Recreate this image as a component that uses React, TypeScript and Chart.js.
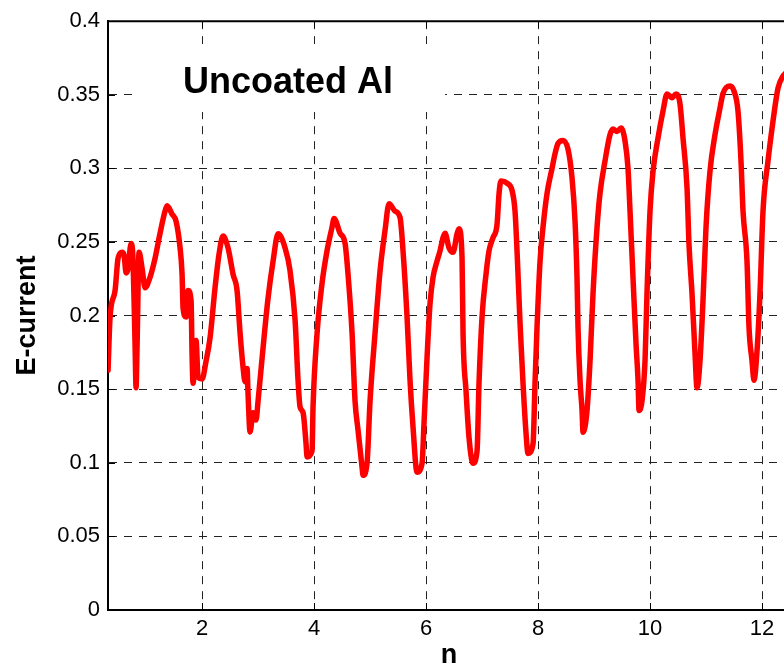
import React, { useEffect, useRef } from "react";
import { Chart, registerables } from "chart.js";

Chart.register(...registerables);

// ---- data ----
const nValues = [
  0.321, 0.357, 0.446, 0.5, 0.571, 0.607, 0.643, 0.679, 0.732, 0.768, 0.804, 0.821, 0.839, 0.875, 0.929, 0.982,
  1.071, 1.161, 1.25, 1.339, 1.375, 1.464, 1.536, 1.607, 1.643, 1.661, 1.714, 1.75, 1.804, 1.821, 1.839, 1.893, 1.929,
  2.0, 2.071, 2.143, 2.232, 2.304, 2.375, 2.464, 2.554, 2.625, 2.679, 2.732, 2.768, 2.804, 2.821, 2.857, 2.911, 2.964,
  3.0, 3.089, 3.179, 3.268, 3.357, 3.482, 3.571, 3.661, 3.714, 3.75, 3.804, 3.857, 3.875, 3.964, 3.982,
  4.054, 4.143, 4.232, 4.321, 4.357, 4.464, 4.554, 4.607, 4.679, 4.732, 4.786, 4.857, 4.875, 4.946,
  5.0, 5.089, 5.179, 5.268, 5.339, 5.446, 5.536, 5.589, 5.661, 5.714, 5.768, 5.839, 5.929, 5.964,
  6.018, 6.071, 6.125, 6.196, 6.25, 6.304, 6.339, 6.411, 6.482, 6.554, 6.589, 6.643, 6.661, 6.714, 6.768, 6.839, 6.911, 6.946,
  7.0, 7.071, 7.125, 7.196, 7.268, 7.304, 7.339, 7.446, 7.536, 7.589, 7.625, 7.679, 7.732, 7.786, 7.821, 7.911, 7.946, 7.982,
  8.036, 8.089, 8.161, 8.25, 8.304, 8.357, 8.446, 8.536, 8.607, 8.661, 8.696, 8.714, 8.75, 8.786, 8.804, 8.875, 8.929, 8.982,
  9.054, 9.107, 9.196, 9.286, 9.339, 9.411, 9.482, 9.554, 9.607, 9.643, 9.696, 9.75, 9.786, 9.804, 9.857, 9.911, 9.946,
  10.0, 10.054, 10.143, 10.232, 10.304, 10.393, 10.464, 10.536, 10.589, 10.661, 10.696, 10.75, 10.804, 10.839, 10.893, 10.946,
  11.0, 11.071, 11.161, 11.25, 11.304, 11.429, 11.5, 11.571, 11.625, 11.661, 11.732, 11.768, 11.821, 11.857, 11.911, 11.964,
  12.018, 12.107, 12.196, 12.286, 12.375, 12.43,
];

const eCurrent = [
  0.163, 0.199, 0.217, 0.239, 0.243, 0.241, 0.229, 0.232, 0.249, 0.237, 0.179, 0.151, 0.179, 0.243, 0.232, 0.219,
  0.226, 0.239, 0.256, 0.271, 0.2746, 0.269, 0.264, 0.246, 0.228, 0.205, 0.199, 0.217, 0.21, 0.174, 0.154, 0.183, 0.158,
  0.157, 0.169, 0.185, 0.219, 0.242, 0.254, 0.246, 0.228, 0.217, 0.188, 0.165, 0.155, 0.164, 0.147, 0.121, 0.134, 0.129,
  0.142, 0.178, 0.212, 0.237, 0.2556, 0.246, 0.2305, 0.197, 0.156, 0.138, 0.134, 0.113, 0.104, 0.108, 0.138,
  0.188, 0.222, 0.244, 0.26, 0.266, 0.256, 0.249, 0.228, 0.188, 0.142, 0.122, 0.097, 0.0915, 0.0997,
  0.142, 0.188, 0.2305, 0.258, 0.276, 0.271, 0.2666, 0.244, 0.199, 0.156, 0.124, 0.0936, 0.0997, 0.127,
  0.1715, 0.208, 0.226, 0.237, 0.244, 0.253, 0.256, 0.246, 0.243, 0.2556, 0.259, 0.239, 0.188, 0.149, 0.117, 0.0997, 0.108, 0.154,
  0.199, 0.228, 0.244, 0.253, 0.262, 0.283, 0.2915, 0.29, 0.285, 0.271, 0.244, 0.1946, 0.154, 0.12, 0.1064, 0.113, 0.154, 0.192,
  0.237, 0.26, 0.283, 0.3, 0.31, 0.317, 0.319, 0.313, 0.2936, 0.264, 0.226, 0.192, 0.156, 0.1356, 0.1207, 0.1356, 0.1695, 0.215,
  0.26, 0.283, 0.305, 0.323, 0.3268, 0.325, 0.3275, 0.3186, 0.3, 0.271, 0.226, 0.181, 0.156, 0.1356, 0.142, 0.1695, 0.215,
  0.271, 0.298, 0.3207, 0.339, 0.3505, 0.348, 0.3505, 0.3437, 0.3207, 0.2868, 0.2488, 0.215, 0.174, 0.151, 0.1695, 0.21,
  0.26, 0.298, 0.323, 0.341, 0.351, 0.356, 0.3525, 0.339, 0.305, 0.271, 0.237, 0.192, 0.1695, 0.156, 0.176, 0.215,
  0.271, 0.305, 0.332, 0.3546, 0.3627, 0.365,
];

const xTickValues = [2, 4, 6, 8, 10, 12];
const yTickValues = [0, 0.05, 0.1, 0.15, 0.2, 0.25, 0.3, 0.35, 0.4];
const xRange = [0.32, 12.5];
const yRange = [0, 0.4];

const xAxisTitle = "n";
const yAxisTitle = "E-current";
const annotationText = "Uncoated Al";
// annotation placement in data units: box [n0, n1, e0, e1], text anchor [n, e]
const annotationBox = [0.786, 6.34, 0.3844, 0.3383];
const annotationAnchor = [1.66, 0.3512];

const FONT = '"Liberation Sans", Arial, Helvetica, sans-serif';
const GRID_DASH = [8, 7];

const framePlugin = {
  id: "matlabFrame",
  beforeDatasetsDraw(chart: any) {
    const { ctx, chartArea, scales } = chart;
    const xs = scales.x;
    const ys = scales.y;
    ctx.save();
    // inside tick marks
    ctx.strokeStyle = "#000";
    ctx.lineWidth = 1;
    ctx.setLineDash([]);
    ctx.beginPath();
    xTickValues.forEach((v) => {
      const px = Math.round(xs.getPixelForValue(v)) + 0.5;
      ctx.moveTo(px, chartArea.bottom);
      ctx.lineTo(px, chartArea.bottom - 7);
      ctx.moveTo(px, chartArea.top);
      ctx.lineTo(px, chartArea.top + 7);
    });
    yTickValues.forEach((v) => {
      const py = Math.round(ys.getPixelForValue(v)) + 0.5;
      ctx.moveTo(chartArea.left, py);
      ctx.lineTo(chartArea.left + 7, py);
    });
    ctx.stroke();
    // top border
    ctx.lineWidth = 2;
    ctx.beginPath();
    ctx.moveTo(chartArea.left, chartArea.top);
    ctx.lineTo(chartArea.right, chartArea.top);
    ctx.stroke();
    // annotation box + text
    const bx0 = xs.getPixelForValue(annotationBox[0]);
    const bx1 = xs.getPixelForValue(annotationBox[1]);
    const by0 = ys.getPixelForValue(annotationBox[2]);
    const by1 = ys.getPixelForValue(annotationBox[3]);
    ctx.fillStyle = "#ffffff";
    ctx.fillRect(bx0, by0, bx1 - bx0, by1 - by0);
    ctx.fillStyle = "#000000";
    ctx.font = `bold 36px ${FONT}`;
    ctx.textBaseline = "alphabetic";
    ctx.textAlign = "left";
    ctx.fillText(annotationText, xs.getPixelForValue(annotationAnchor[0]), ys.getPixelForValue(annotationAnchor[1]));
    ctx.restore();
  },
};

export default function App() {
  const ref = useRef<HTMLCanvasElement | null>(null);

  useEffect(() => {
    if (!ref.current) return;
    const points = nValues.map((n, i) => ({ x: n, y: eCurrent[i] }));
    const chart = new Chart(ref.current, {
      type: "line",
      data: {
        datasets: [
          {
            data: points,
            borderColor: "#ff0000",
            borderWidth: 5.5,
            pointRadius: 0,
            cubicInterpolationMode: "monotone",
            borderJoinStyle: "round",
            borderCapStyle: "round",
            fill: false,
          },
        ],
      },
      options: {
        animation: false,
        responsive: false,
        maintainAspectRatio: false,
        layout: { padding: { top: 20, left: 0, right: 0, bottom: 0 } },
        plugins: {
          legend: { display: false },
          tooltip: { enabled: false },
          title: { display: false },
        },
        scales: {
          x: {
            type: "linear",
            min: xRange[0],
            max: xRange[1],
            afterBuildTicks: (scale: any) => {
              scale.ticks = xTickValues.map((v) => ({ value: v }));
            },
            afterFit: (scale: any) => {
              scale.height = 62;
            },
            ticks: {
              padding: 6,
              color: "#000",
              font: { family: FONT, size: 22 },
              maxRotation: 0,
              autoSkip: false,
              callback: (v: any) => String(v),
            },
            grid: {
              color: "#222",
              lineWidth: 1,
              drawTicks: false,
            },
            border: { display: true, color: "#000", width: 2, dash: GRID_DASH as any },
            title: {
              display: true,
              text: xAxisTitle,
              color: "#000",
              font: { family: FONT, size: 27, weight: "bold" },
              padding: { top: 0, bottom: 0 },
            },
          },
          y: {
            type: "linear",
            min: yRange[0],
            max: yRange[1],
            afterBuildTicks: (scale: any) => {
              scale.ticks = yTickValues.map((v) => ({ value: v }));
            },
            afterFit: (scale: any) => {
              scale.width = 108;
            },
            ticks: {
              padding: 8,
              color: "#000",
              font: { family: FONT, size: 22 },
              autoSkip: false,
              callback: (v: any) => String(Number(Number(v).toFixed(2))),
            },
            grid: {
              color: "#222",
              lineWidth: 1,
              drawTicks: false,
            },
            border: { display: true, color: "#000", width: 2, dash: GRID_DASH as any },
            title: {
              display: true,
              text: yAxisTitle,
              color: "#000",
              font: { family: FONT, size: 27, weight: "bold" },
              padding: { top: 11, bottom: 0 },
            },
          },
        },
      },
      plugins: [framePlugin],
    });
    return () => chart.destroy();
  }, []);

  return (
    <div
      style={{
        position: "fixed",
        left: 0,
        top: 0,
        width: 784,
        height: 672,
        overflow: "hidden",
        background: "#fff",
      }}
    >
      <canvas ref={ref} width={790} height={672} style={{ width: 790, height: 672, display: "block" }} />
    </div>
  );
}
